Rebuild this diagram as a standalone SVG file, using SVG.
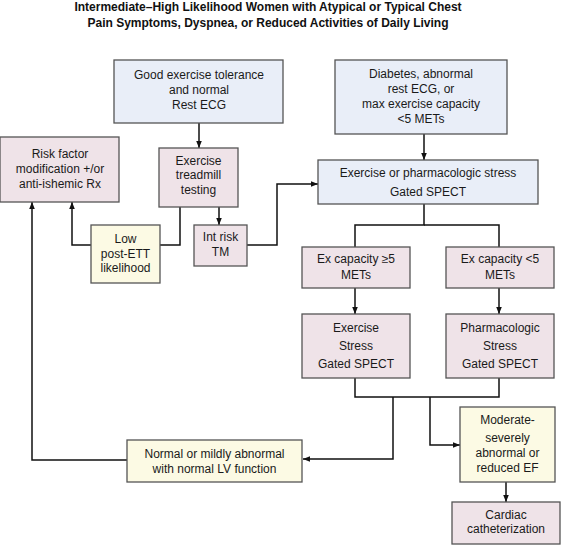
<svg xmlns="http://www.w3.org/2000/svg" width="561" height="545" viewBox="0 0 561 545">
<defs>
<style>
text{font-family:"Liberation Sans",Arial,sans-serif;font-size:12px;fill:#1a1a1a;text-anchor:middle;dominant-baseline:central}
.title{font-weight:bold;font-size:12px;fill:#111}
.box{stroke:#555;stroke-width:1.3}
.blue{fill:#e9eef8}
.pink{fill:#efe3e8}
.yel{fill:#fcfae4}
.conn{fill:none;stroke:#111;stroke-width:1.5}
</style>
<marker id="ah" viewBox="0 0 10 10" refX="10" refY="5" markerWidth="7" markerHeight="7" orient="auto" markerUnits="userSpaceOnUse">
<path d="M0,1 L10,5 L0,9 Z" fill="#111"/>
</marker>
</defs>
<rect width="561" height="545" fill="#fff"/>
<g id="title">
<text class="title" x="268" y="7">Intermediate–High Likelihood Women with Atypical or Typical Chest</text>
<text class="title" x="268" y="23">Pain Symptoms, Dyspnea, or Reduced Activities of Daily Living</text>
</g>
<g id="connectors">
<path class="conn" d="M199,123 V148" marker-end="url(#ah)"/>
<path class="conn" d="M424,134 V160" marker-end="url(#ah)"/>
<path class="conn" d="M219,207 V225" marker-end="url(#ah)"/>
<path class="conn" d="M180,207 V245 H160"/>
<path class="conn" d="M91,245 H72 V202" marker-end="url(#ah)"/>
<path class="conn" d="M247,245 H277 V184 H318" marker-end="url(#ah)"/>
<path class="conn" d="M424,204 V225 H355 V247"/>
<path class="conn" d="M424,225 H499 V247"/>
<path class="conn" d="M355,288 V314" marker-end="url(#ah)"/>
<path class="conn" d="M499,288 V314" marker-end="url(#ah)"/>
<path class="conn" d="M355,378 V397 H499 V378"/>
<path class="conn" d="M393,397 V459 H303" marker-end="url(#ah)"/>
<path class="conn" d="M430,397 V445 H460" marker-end="url(#ah)"/>
<path class="conn" d="M127,460 H32 V202" marker-end="url(#ah)"/>
<path class="conn" d="M506,482 V502" marker-end="url(#ah)"/>
</g>
<g id="good">
<rect class="box blue" x="114" y="60" width="169" height="63"/>
<text x="199" y="75">Good exercise tolerance</text>
<text x="199" y="90">and normal</text>
<text x="199" y="105">Rest ECG</text>
</g>
<g id="diabetes">
<rect class="box blue" x="335" y="60" width="172" height="74"/>
<text x="421" y="74">Diabetes, abnormal</text>
<text x="421" y="89">rest ECG, or</text>
<text x="421" y="104">max exercise capacity</text>
<text x="421" y="119">&lt;5 METs</text>
</g>
<g id="riskfactor">
<rect class="box pink" x="0" y="137" width="119" height="65"/>
<text x="60" y="154">Risk factor</text>
<text x="60" y="169">modification +/or</text>
<text x="60" y="184">anti-ishemic Rx</text>
</g>
<g id="treadmill">
<rect class="box pink" x="159" y="148" width="79" height="59"/>
<text x="198.5" y="161">Exercise</text>
<text x="198.5" y="175">treadmill</text>
<text x="198.5" y="190">testing</text>
</g>
<g id="low">
<rect class="box yel" x="91" y="225" width="69" height="58"/>
<text x="125.5" y="239">Low</text>
<text x="125.5" y="254">post-ETT</text>
<text x="125.5" y="268">likelihood</text>
</g>
<g id="intrisk">
<rect class="box pink" x="194" y="225" width="53" height="41"/>
<text x="220.5" y="237">Int risk</text>
<text x="220.5" y="252">TM</text>
</g>
<g id="stress">
<rect class="box blue" x="318" y="160" width="220" height="44"/>
<text x="428" y="173">Exercise or pharmacologic stress</text>
<text x="428" y="192">Gated SPECT</text>
</g>
<g id="excap5">
<rect class="box pink" x="302" y="247" width="108" height="41"/>
<text x="356" y="259">Ex capacity ≥5</text>
<text x="356" y="275">METs</text>
</g>
<g id="excaplt5">
<rect class="box pink" x="446" y="247" width="108" height="41"/>
<text x="500" y="259">Ex capacity &lt;5</text>
<text x="500" y="275">METs</text>
</g>
<g id="exstress">
<rect class="box pink" x="302" y="314" width="108" height="64"/>
<text x="356" y="328">Exercise</text>
<text x="356" y="346">Stress</text>
<text x="356" y="364">Gated SPECT</text>
</g>
<g id="pharmstress">
<rect class="box pink" x="446" y="314" width="108" height="64"/>
<text x="500" y="328">Pharmacologic</text>
<text x="500" y="346">Stress</text>
<text x="500" y="364">Gated SPECT</text>
</g>
<g id="normal">
<rect class="box yel" x="127" y="440" width="175" height="42"/>
<text x="214.5" y="454">Normal or mildly abnormal</text>
<text x="214.5" y="469">with normal LV function</text>
</g>
<g id="moderate">
<rect class="box yel" x="460" y="407" width="95" height="75"/>
<text x="507.5" y="420">Moderate-</text>
<text x="507.5" y="438">severely</text>
<text x="507.5" y="453">abnormal or</text>
<text x="507.5" y="468">reduced EF</text>
</g>
<g id="cath">
<rect class="box pink" x="452" y="502" width="108" height="42"/>
<text x="506" y="515">Cardiac</text>
<text x="506" y="529">catheterization</text>
</g>
</svg>
